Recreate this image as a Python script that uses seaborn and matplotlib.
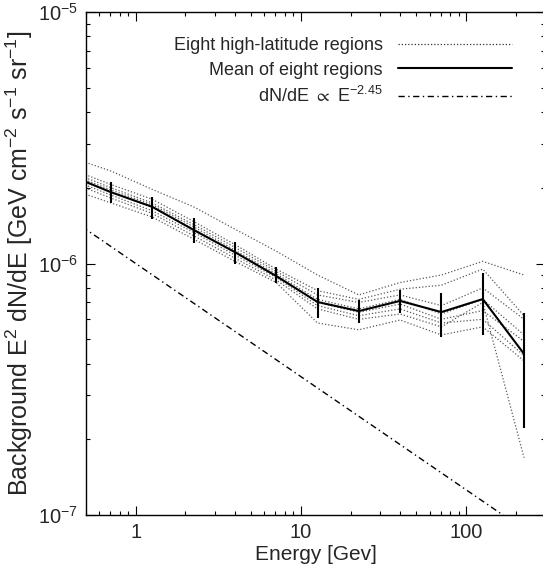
import numpy as np
import pandas as pd
import seaborn as sns
from matplotlib import pyplot as plt
from matplotlib.lines import Line2D
from matplotlib.ticker import NullFormatter

sns.set_style("ticks")
plt.rcParams['font.family'] = ['Liberation Sans', 'DejaVu Sans']
plt.rcParams['mathtext.fontset'] = 'custom'
plt.rcParams['mathtext.rm'] = 'Liberation Sans'
plt.rcParams['mathtext.default'] = 'regular'

# energy bins [GeV]
energy = [0.40, 0.71, 1.26, 2.24, 3.98, 7.08, 12.6, 22.4, 39.8, 70.8, 126, 224]

# eight high-latitude regions, E^2 dN/dE in units of 1e-6 GeV cm-2 s-1 sr-1
region_1 = [2.65, 2.33, 1.97, 1.68, 1.37, 1.12, 0.90, 0.75, 0.84, 0.90, 1.02, 0.90]
region_2 = [2.38, 2.06, 1.80, 1.47, 1.19, 0.95, 0.78, 0.72, 0.79, 0.82, 0.95, 0.62]
region_3 = [2.32, 2.00, 1.74, 1.43, 1.16, 0.93, 0.75, 0.70, 0.75, 0.68, 0.80, 0.60]
region_4 = [2.27, 1.96, 1.71, 1.40, 1.13, 0.91, 0.72, 0.66, 0.72, 0.63, 0.72, 0.52]
region_5 = [2.22, 1.92, 1.67, 1.37, 1.11, 0.89, 0.70, 0.64, 0.69, 0.60, 0.65, 0.49]
region_6 = [2.17, 1.87, 1.62, 1.33, 1.08, 0.88, 0.68, 0.62, 0.66, 0.58, 0.60, 0.43]
region_7 = [2.11, 1.82, 1.58, 1.29, 1.05, 0.86, 0.66, 0.60, 0.63, 0.56, 0.70, 0.169]
region_8 = [1.98, 1.74, 1.53, 1.25, 1.02, 0.84, 0.58, 0.545, 0.596, 0.52, 0.56, 0.41]
regions = [region_1, region_2, region_3, region_4,
           region_5, region_6, region_7, region_8]

# mean of the eight regions and its error range (1e-6 units)
mean_flux = [2.24, 1.92, 1.68, 1.36, 1.11, 0.892, 0.703, 0.647, 0.710, 0.641, 0.722, 0.437]
mean_hi = [2.45, 2.11, 1.84, 1.52, 1.22, 0.968, 0.800, 0.716, 0.785, 0.763, 0.917, 0.636]
mean_lo = [2.05, 1.74, 1.50, 1.21, 0.995, 0.837, 0.607, 0.580, 0.636, 0.510, 0.520, 0.222]

# reference power law dN/dE ~ E^-2.45, normalised at 1 GeV
PL_INDEX = 2.45
PL_NORM = 1e-6
pl_energy = np.array([0.4, 300.0])

SCALE = 1e-6

# long-form table for seaborn
rows = []
for i, reg in enumerate(regions):
    for e, f in zip(energy, reg):
        rows.append({'energy': e, 'flux': f * SCALE, 'region': i + 1})
df = pd.DataFrame(rows)

fig = plt.figure(figsize=(5.43, 5.67), dpi=100)
ax = fig.add_axes([86 / 543, 1 - 515 / 567, 459 / 543, 503 / 567])

sns.lineplot(data=df, x='energy', y='flux', units='region', estimator=None,
             color='0.35', lw=0.9, linestyle=(0, (1, 1.6)), ax=ax, legend=False)

mean = np.array(mean_flux) * SCALE
yerr = [mean - np.array(mean_lo) * SCALE, np.array(mean_hi) * SCALE - mean]
ax.errorbar(energy, mean, yerr=yerr, fmt='-', color='k', lw=1.5,
            elinewidth=1.5, capsize=0)

ax.plot(pl_energy, PL_NORM * pl_energy ** (2 - PL_INDEX), color='k', lw=1.0,
        linestyle=(0, (4.5, 2.5, 1, 2.5)))

ax.set_xscale('log')
ax.set_yscale('log')
ax.set_xlim(0.5, 300)
ax.set_ylim(1e-7, 1e-5)
ax.xaxis.set_minor_formatter(NullFormatter())
ax.yaxis.set_minor_formatter(NullFormatter())
ax.set_xticks([1, 10, 100], ['1', '10', '100'])

ax.tick_params(which='both', direction='in', top=True, right=True,
               labelsize=14.5, width=0.8, color='k')
ax.tick_params(which='major', length=6.5, pad=6)
ax.tick_params(which='minor', length=3.2)
for sp in ax.spines.values():
    sp.set_linewidth(1.0)
    sp.set_color('k')

ax.set_xlabel('Energy [Gev]', fontsize=15, labelpad=2)
ax.set_ylabel('Background E$^2$ dN/dE [GeV cm$^{-2}$ s$^{-1}$ sr$^{-1}$]',
              fontsize=18, labelpad=2)

handles = [
    Line2D([], [], color='0.2', lw=0.9, linestyle=(0, (1, 1.6))),
    Line2D([], [], color='k', lw=1.5),
    Line2D([], [], color='k', lw=1.0, linestyle=(0, (4.5, 2.5, 1, 2.5))),
]
labels = ['Eight high-latitude regions', 'Mean of eight regions',
          'dN/dE $\\propto$ E$^{-2.45}$']
ax.legend(handles, labels, loc='upper right', frameon=False,
          bbox_to_anchor=(512 / 543, 1 - 37 / 567), bbox_transform=fig.transFigure,
          borderaxespad=0, borderpad=0, markerfirst=False, fontsize=13,
          handlelength=6.3, handletextpad=0.85, labelspacing=0.42)

fig.savefig('out.png', dpi=100)
